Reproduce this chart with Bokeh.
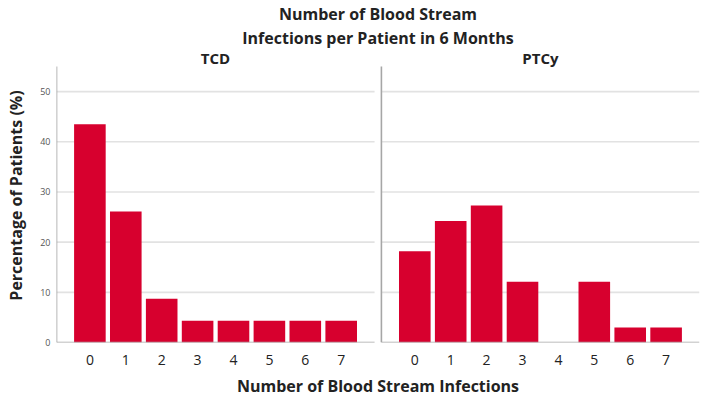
from bokeh.plotting import figure
from bokeh.models import Range1d, FixedTicker, Title, ColumnDataSource
from bokeh.embed import file_html
from bokeh.resources import INLINE
from bokeh.core.properties import value

# ---- data ----
categories = ["0", "1", "2", "3", "4", "5", "6", "7"]
tcd_pct = [43.5, 26.1, 8.7, 4.35, 4.35, 4.35, 4.35, 4.35]
ptcy_pct = [18.2, 24.2, 27.3, 12.1, 0.0, 12.1, 3.0, 3.0]
panels = ["TCD", "PTCy"]
y_ticks = [0, 10, 20, 30, 40, 50]
title_lines = ["Number of Blood Stream", "Infections per Patient in 6 Months"]
x_label = "Number of Blood Stream Infections"
y_label = "Percentage of Patients (%)"

# ---- styles / geometry ----
FONT = "Open Sans"
BAR = "#D7002E"
GRID = "#E2E2E2"
AXIS = "#A6A6A6"
DARK = "#222222"
PAD = 0.93          # space between panel edge and first/last bar centre
GAP = 0.19          # gap between the two panels
YMAX = 55           # top of each panel's value axis
YTOP = 58.6         # top of the frame (room for panel titles)
YPANEL = 56.8       # vertical position of panel titles
n = len(categories)
offset = (n - 1) + 2 * PAD + GAP

p = figure(width=703, height=401, output_backend="svg", toolbar_location=None,
           x_range=Range1d(-PAD, offset + n - 1 + PAD), y_range=Range1d(0, YTOP),
           min_border=0, min_border_left=56, min_border_right=4,
           min_border_top=38, min_border_bottom=0)
p.outline_line_color = None
p.xgrid.grid_line_color = None
p.ygrid.grid_line_color = None

# titles (the later-added title is placed closer to the frame)
p.title.text = title_lines[0]
p.title.align = "center"
p.title.text_font = FONT
p.title.text_font_size = "16px"
p.title.text_font_style = "bold"
p.title.text_color = DARK
p.title.standoff = 0
p.add_layout(Title(text=title_lines[1], align="center", text_font=FONT,
                   text_font_size="16px", text_font_style="bold",
                   text_color=DARK, standoff=0), "above")

# panel gridlines
starts = [k * offset - PAD for k in range(len(panels))]
ends = [k * offset + n - 1 + PAD for k in range(len(panels))]
gx0, gx1, gy = [], [], []
for t in y_ticks[1:]:
    for s, e in zip(starts, ends):
        gx0.append(s); gx1.append(e); gy.append(t)
p.segment(x0=gx0, x1=gx1, y0=gy, y1=gy, line_color=GRID, line_width=1.6)

# bars
for k, vals in enumerate([tcd_pct, ptcy_pct]):
    src = ColumnDataSource(dict(x=[k * offset + i for i in range(n)], top=vals))
    p.vbar(x="x", top="top", width=0.88, source=src, fill_color=BAR, line_color=None)

# panel frame lines (bottom and left)
p.segment(x0=starts, x1=ends, y0=[0] * len(starts), y1=[0] * len(starts),
          line_color=AXIS, line_width=1.6)
p.segment(x0=starts, x1=starts, y0=[0] * len(starts), y1=[YMAX] * len(starts),
          line_color=AXIS, line_width=1.6)

# panel titles
p.text(x=[k * offset + (n - 1) / 2 for k in range(len(panels))],
       y=[YPANEL] * len(panels), text=panels, text_align="center",
       text_baseline="middle", text_font=value(FONT), text_font_size="15px",
       text_font_style="bold", text_color=DARK)

# x axis
ticks = [k * offset + i for k in range(len(panels)) for i in range(n)]
p.xaxis.ticker = FixedTicker(ticks=ticks)
p.xaxis.major_label_overrides = {t: categories[i % n] for i, t in enumerate(ticks)}
p.xaxis.axis_line_color = None
p.xaxis.major_tick_line_color = None
p.xaxis.minor_tick_line_color = None
p.xaxis.major_tick_out = 0
p.xaxis.major_tick_in = 0
p.xaxis.major_label_standoff = 12
p.xaxis.major_label_text_font = FONT
p.xaxis.major_label_text_font_size = "14px"
p.xaxis.major_label_text_color = DARK
p.add_layout(Title(text=x_label, align="center", text_font=FONT,
                   text_font_size="16px", text_font_style="bold",
                   text_color=DARK, standoff=10), "below")

# y axis
p.yaxis.ticker = FixedTicker(ticks=y_ticks)
p.yaxis.axis_line_color = None
p.yaxis.major_tick_line_color = None
p.yaxis.minor_tick_line_color = None
p.yaxis.major_tick_out = 0
p.yaxis.major_tick_in = 0
p.yaxis.major_label_standoff = 6
p.yaxis.major_label_text_font = FONT
p.yaxis.major_label_text_font_size = "9px"
p.yaxis.major_label_text_color = "#555555"
p.yaxis.axis_label = y_label
p.yaxis.axis_label_text_font = FONT
p.yaxis.axis_label_text_font_size = "16px"
p.yaxis.axis_label_text_font_style = "bold"
p.yaxis.axis_label_text_color = DARK
p.yaxis.axis_label_standoff = 10

open("out.html", "w").write(file_html(p, INLINE))
